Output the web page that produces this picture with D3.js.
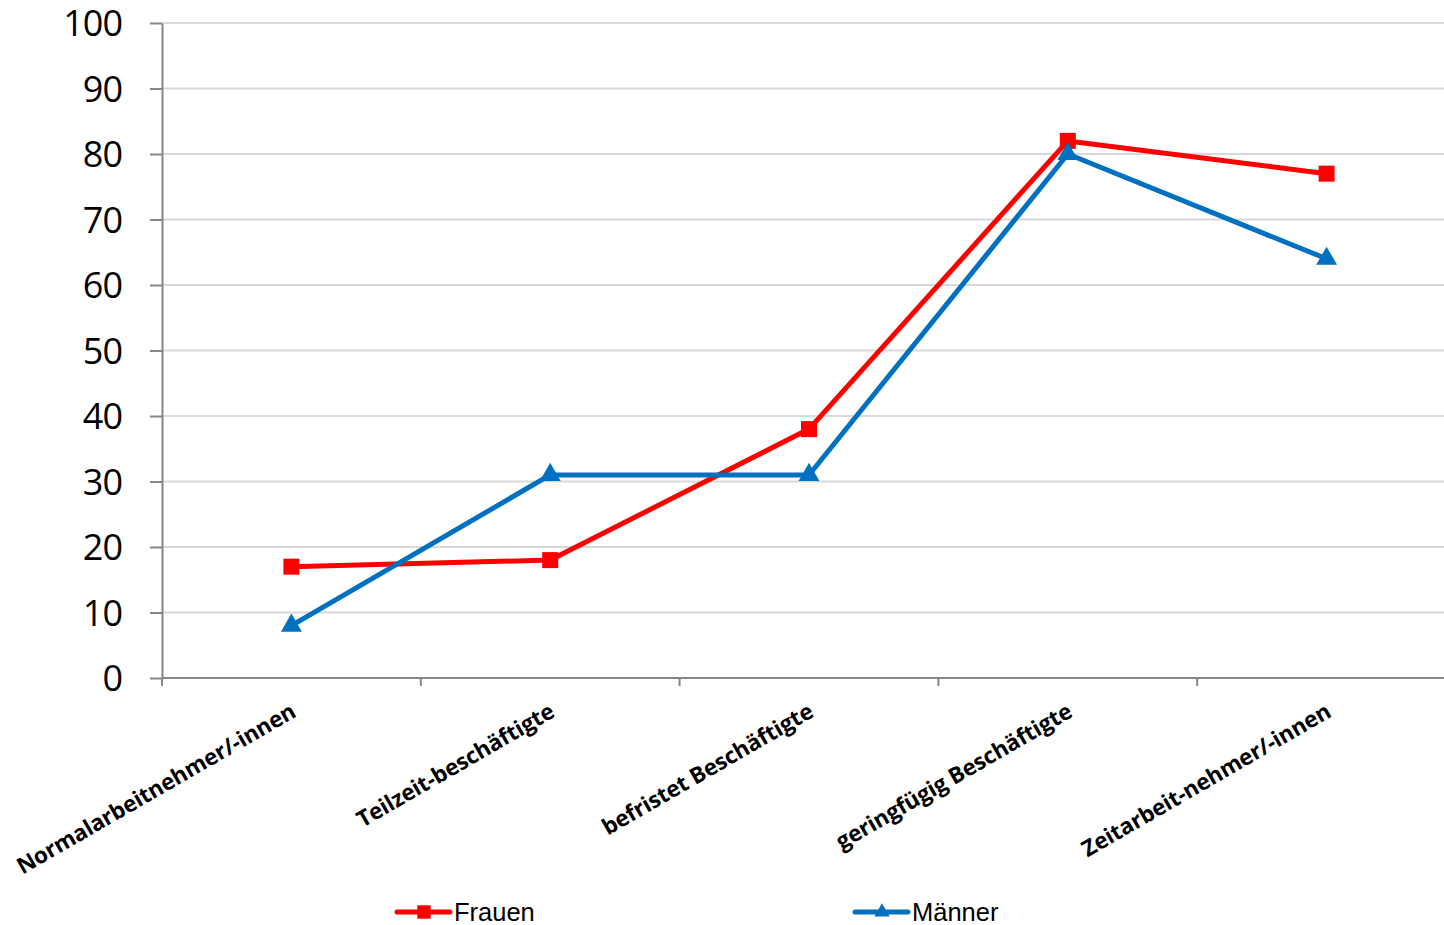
<!DOCTYPE html>
<html>
<head>
<meta charset="utf-8">
<script src="https://cdn.jsdelivr.net/npm/d3@7"></script>
<style>
  body { margin: 0; background: #fff; }
  svg { display: block; }
</style>
</head>
<body>
<svg width="1444" height="925"></svg>
<script>
// chart data
var categories = ['Normalarbeitnehmer/-innen', 'Teilzeit-beschäftigte', 'befristet Beschäftigte',
                  'geringfügig Beschäftigte', 'Zeitarbeit-nehmer/-innen'];
var frauen = [17, 18, 38, 82, 77];
var maenner = [8, 31, 31, 80, 64];
var yTicks = [0, 10, 20, 30, 40, 50, 60, 70, 80, 90, 100];

var svg = d3.select('svg');
var chartG = svg.append('g');

// scales
var xScale = d3.scaleBand().domain(categories).range([162, 1456]);
var yScale = d3.scaleLinear().domain([0, 100]).range([678, 23]);

// gridlines
chartG.append('g')
    .selectAll('line')
    .data(yTicks.slice(1))
    .enter()
    .append('line')
    .attr('x1', 162)
    .attr('x2', 1444)
    .attr('y1', function(d) { return yScale(d); })
    .attr('y2', function(d) { return yScale(d); })
    .style('stroke', '#d9d9d9')
    .style('stroke-width', 2);

// y axis
var yAxisG = chartG.append('g')
    .attr('transform', 'translate(162, 0)')
    .call(d3.axisLeft(yScale).tickValues(yTicks).tickSize(12).tickSizeOuter(0).tickPadding(28));
yAxisG.select('.domain').style('stroke', '#868686').style('stroke-width', 2);
yAxisG.selectAll('.tick line').style('stroke', '#868686').style('stroke-width', 2);
yAxisG.selectAll('.tick text')
    .attr('dy', '0.36em')
    .style('font-family', '"Open Sans", sans-serif')
    .style('font-size', '36px')
    .style('letter-spacing', '-1px')
    .style('fill', '#000');

// x axis: ticks at band edges
var xAxisG = chartG.append('g')
    .attr('transform', 'translate(0, 678)');
xAxisG.append('line')
    .attr('x1', 162).attr('x2', 1444)
    .style('stroke', '#868686').style('stroke-width', 2);
xAxisG.selectAll('.xtick')
    .data(categories)
    .enter()
    .append('line')
    .attr('class', 'xtick')
    .attr('x1', function(d) { return xScale(d); })
    .attr('x2', function(d) { return xScale(d); })
    .attr('y1', 0).attr('y2', 8)
    .style('stroke', '#868686').style('stroke-width', 2);

xAxisG.selectAll('.xlabel')
    .data(categories)
    .enter()
    .append('text')
    .attr('class', 'xlabel')
    .attr('transform', function(d) {
        return 'translate(' + (xScale(d) + xScale.bandwidth() / 2 + 6) + ', 38) rotate(-30)';
    })
    .attr('text-anchor', 'end')
    .style('font-family', '"Open Sans", sans-serif')
    .style('font-weight', 'bold')
    .style('font-size', '22.5px')
    .style('letter-spacing', '-0.2px')
    .style('fill', '#000')
    .text(function(d) { return d; });

// lines
var line = d3.line()
    .x(function(d, i) { return xScale(categories[i]) + xScale.bandwidth() / 2; })
    .y(function(d) { return yScale(d); });

chartG.append('path')
    .datum(frauen)
    .attr('d', line)
    .style('fill', 'none')
    .style('stroke', '#ff0000')
    .style('stroke-width', 5)
    .style('stroke-linejoin', 'round');

chartG.append('path')
    .datum(maenner)
    .attr('d', line)
    .style('fill', 'none')
    .style('stroke', '#0070c0')
    .style('stroke-width', 5)
    .style('stroke-linejoin', 'round');

var square = d3.symbol().type(d3.symbolSquare).size(256);
var triangle = d3.symbol().type(d3.symbolTriangle).size(190);

chartG.selectAll('.fdot')
    .data(frauen)
    .enter()
    .append('path')
    .attr('class', 'fdot')
    .attr('d', square)
    .attr('transform', function(d, i) {
        return 'translate(' + (xScale(categories[i]) + xScale.bandwidth() / 2) + ',' + yScale(d) + ')';
    })
    .style('fill', '#ff0000');

chartG.selectAll('.mdot')
    .data(maenner)
    .enter()
    .append('path')
    .attr('class', 'mdot')
    .attr('d', triangle)
    .attr('transform', function(d, i) {
        return 'translate(' + (xScale(categories[i]) + xScale.bandwidth() / 2) + ',' + yScale(d) + ')';
    })
    .style('fill', '#0070c0');

// legend
var legend = [
    { name: 'Frauen', color: '#ff0000', symbol: d3.symbol().type(d3.symbolSquare).size(180), x: 397 },
    { name: 'Männer', color: '#0070c0', symbol: d3.symbol().type(d3.symbolTriangle).size(100), x: 855 }
];
var legendG = svg.selectAll('.legend')
    .data(legend)
    .enter()
    .append('g')
    .attr('class', 'legend')
    .attr('transform', function(d) { return 'translate(' + d.x + ', 912)'; });
legendG.append('line')
    .attr('x1', 0).attr('x2', 53)
    .style('stroke', function(d) { return d.color; })
    .style('stroke-width', 5)
    .style('stroke-linecap', 'round');
legendG.append('path')
    .attr('d', function(d) { return d.symbol(); })
    .attr('transform', 'translate(27, 0)')
    .style('fill', function(d) { return d.color; });
legendG.append('text')
    .attr('x', 57)
    .attr('y', 9)
    .style('font-family', '"Liberation Sans", Arial, sans-serif')
    .style('font-size', '25.5px')
    .style('fill', '#000')
    .text(function(d) { return d.name; });
</script>
</body>
</html>
